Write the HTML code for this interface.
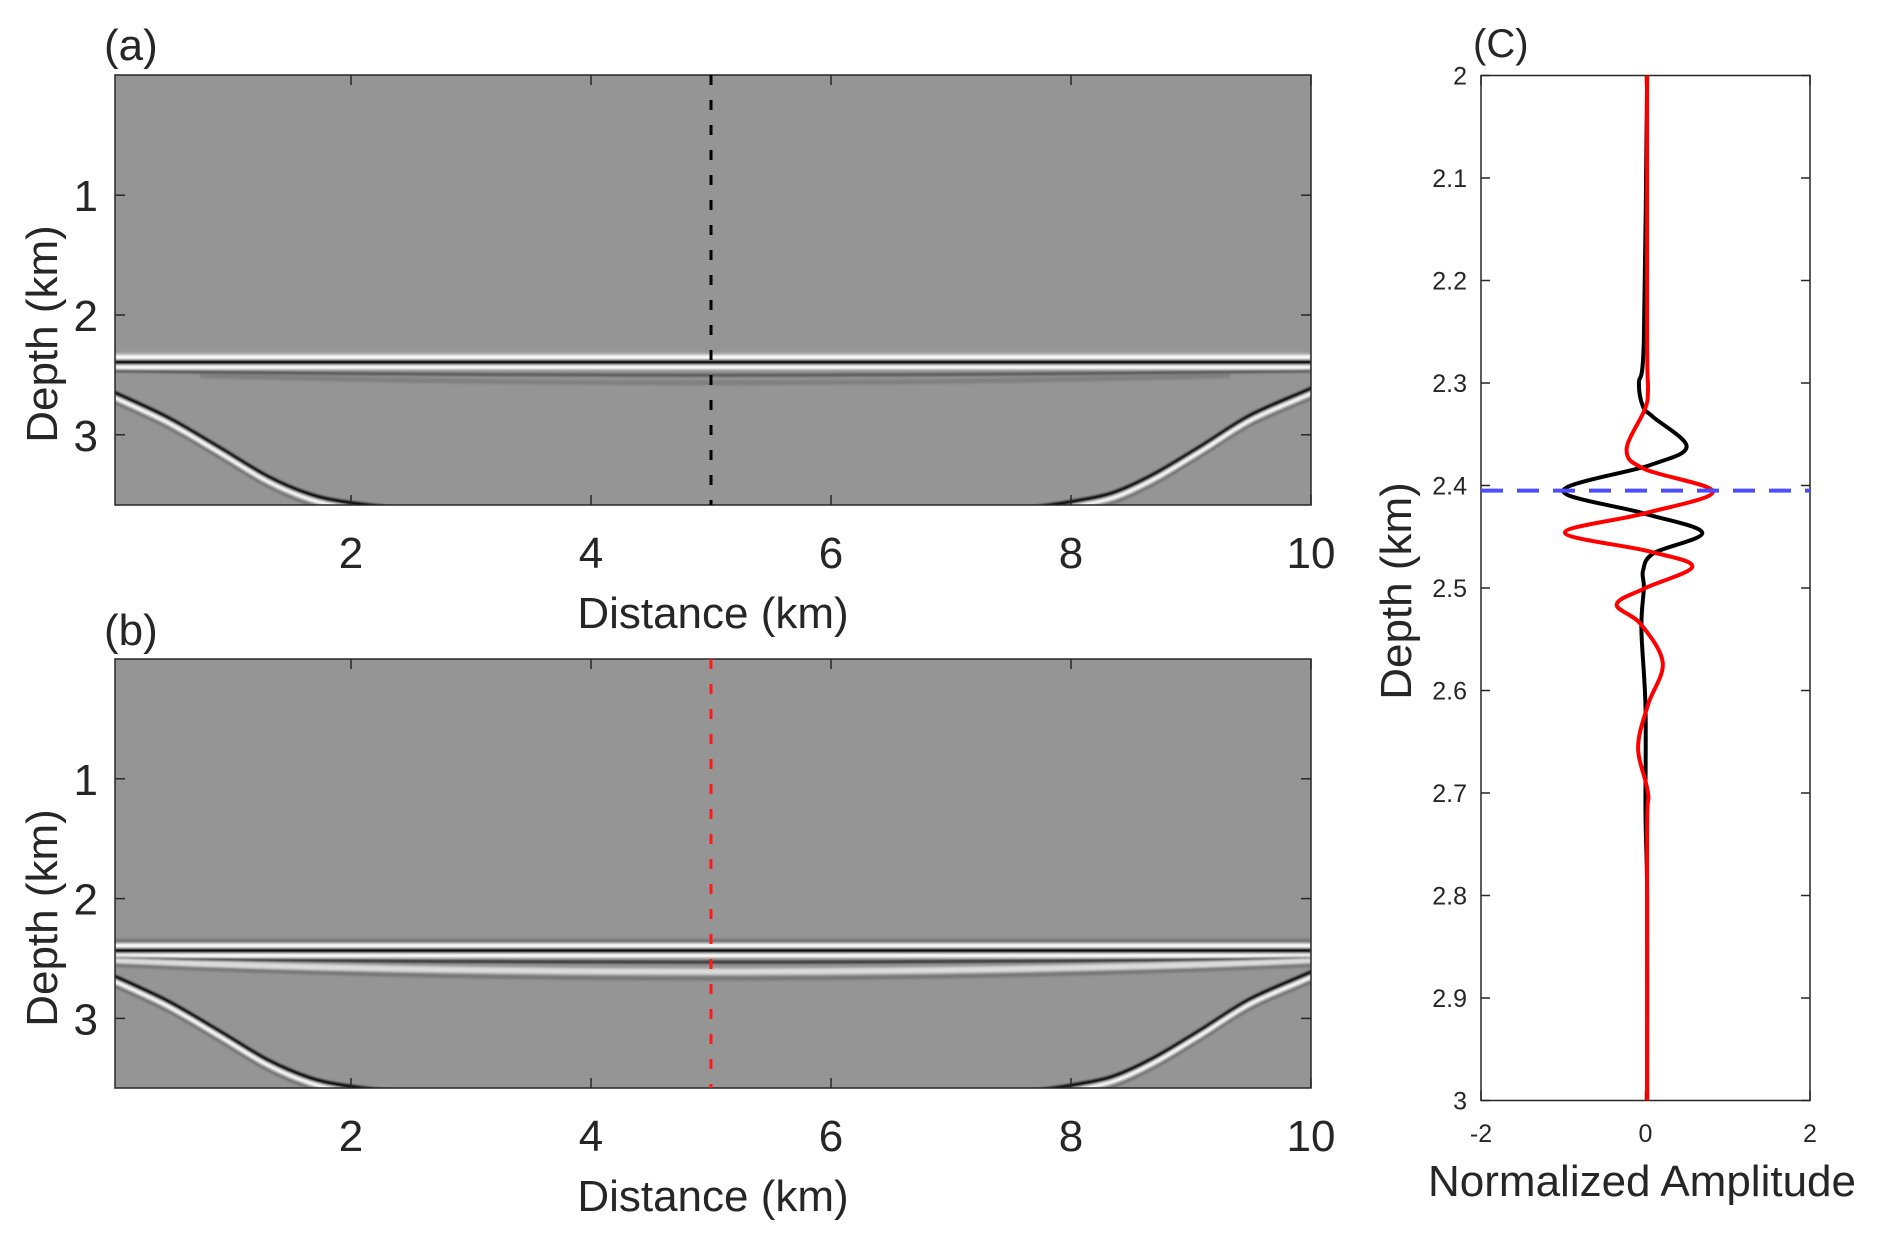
<!DOCTYPE html>
<html><head><meta charset="utf-8">
<style>
html,body{margin:0;padding:0;background:#fff;}
svg text{font-family:"Liberation Sans",Arial,sans-serif;fill:#262626;}
</style></head>
<body>
<svg id="fig" width="1892" height="1241" viewBox="0 0 1892 1241" xmlns="http://www.w3.org/2000/svg">
<defs>
<filter id="soft" x="-5%" y="-50%" width="110%" height="200%"><feGaussianBlur stdDeviation="1.1"/></filter>
<clipPath id="clipA"><rect x="115" y="75" width="1196" height="430"/></clipPath>
<clipPath id="clipB"><rect x="115" y="659" width="1196" height="429"/></clipPath>
<clipPath id="clipC"><rect x="1481" y="75.5" width="329" height="1025"/></clipPath>
</defs>
<g id="root"></g>
</svg>
<script>
// ---- data ----
const xTicks = [2, 4, 6, 8, 10];
const zTicks = [1, 2, 3];
const cTicks = [2, 2.1, 2.2, 2.3, 2.4, 2.5, 2.6, 2.7, 2.8, 2.9, 3];
const cTickLabels = ["2","2.1","2.2","2.3","2.4","2.5","2.6","2.7","2.8","2.9","3"];
const ampTicks = [-2, 0, 2];
const traceLocation = 5;       // km
const pickDepth = 2.405;       // km
const reflectorA = 2.39;       // km
const reflectorB = 2.43;       // km
const diffLeftX = [-0.1, 0.0, 0.47, 0.9, 1.3, 1.65, 1.94, 2.3];
const diffLeftZ = [2.61, 2.66, 2.88, 3.13, 3.37, 3.52, 3.585, 3.63];
const diffRightX = [10.1, 10.0, 9.5, 9.1, 8.7, 8.35, 8.0, 7.7];
const diffRightZ = [2.59, 2.64, 2.86, 3.11, 3.35, 3.51, 3.585, 3.63];
const blackDepth = [2.0, 2.258, 2.30, 2.323, 2.333, 2.362, 2.38, 2.405, 2.427, 2.446, 2.466, 2.483, 2.5, 2.54, 2.616, 2.72, 2.8, 3.0];
const blackAmp   = [0.02, -0.02, -0.08, -0.03, 0.09, 0.5, 0.06, -1.0, -0.03, 0.69, 0.1, -0.03, -0.02, -0.05, 0.0, 0.0, 0.02, 0.02];
const redDepth = [2.0, 2.258, 2.307, 2.326, 2.365, 2.384, 2.406, 2.427, 2.446, 2.464, 2.479, 2.5, 2.516, 2.535, 2.573, 2.614, 2.656, 2.70, 2.74, 3.0];
const redAmp   = [0.02, 0.02, 0.03, -0.01, -0.23, -0.01, 0.82, 0.0, -0.98, 0.03, 0.57, 0.0, -0.35, -0.06, 0.21, 0.03, -0.09, 0.03, 0.02, 0.02];

// ---- axes ----
const NS = "http://www.w3.org/2000/svg";
const root = document.getElementById('root');
function el(tag, attrs, parent, text){
  const e = document.createElementNS(NS, tag);
  for (const k in attrs) e.setAttribute(k, attrs[k]);
  if (text !== undefined) e.textContent = text;
  (parent||root).appendChild(e);
  return e;
}
const X0 = 111, XS = 120;
const xScale = v => X0 + v*XS;
const zScaleA = d => 75.4 + d*119.8;
const zScaleB = d => 659 + d*119.8;
const cz = d => 75.5 + (d-2)*1025;
const ca = a => 1645.5 + a*82.25;

function smoothPath(pts){
  let d = `M${pts[0][0]},${pts[0][1]}`;
  for (let i=0;i<pts.length-1;i++){
    const p0=pts[Math.max(i-1,0)], p1=pts[i], p2=pts[i+1], p3=pts[Math.min(i+2,pts.length-1)];
    const c1x=p1[0]+(p2[0]-p0[0])/6, c1y=p1[1]+(p2[1]-p0[1])/6;
    const c2x=p2[0]-(p3[0]-p1[0])/6, c2y=p2[1]-(p3[1]-p1[1])/6;
    d += ` C${c1x},${c1y} ${c2x},${c2y} ${p2[0]},${p2[1]}`;
  }
  return d;
}

function seismicPanel(name, top, zs, refl, clip, dashColor, isB){
  const g = el('g', {'clip-path':`url(#${clip})`});
  
  
  const bg = el('rect', {x:115, y:top, width:1196, height:430, fill:'#959595'}, g);
  
  
  const y = zs(refl);
  const refG = el('g', {filter:'url(#soft)'}, g);
  
  
  if (!isB){
    el('rect',{x:115,y:y-9,width:1196,height:3,fill:'#b0b0b0'},refG);
    el('rect',{x:115,y:y-6.5,width:1196,height:4,fill:'#ffffff'},refG);
    el('rect',{x:115,y:y-2,width:1196,height:4.5,fill:'#000000'},refG);
    el('rect',{x:115,y:y+3.5,width:1196,height:4,fill:'#ffffff'},refG);
    el('path',{d:`M115,${y+9} Q${xScale(5)},${y+18} 1311,${y+9}`,stroke:'#555','stroke-width':3,fill:'none'},refG);
    el('path',{d:`M200,${y+14} Q${xScale(5)},${y+28} 1230,${y+14}`,stroke:'#808080','stroke-width':5,fill:'none'},refG);
  } else {
    el('rect',{x:115,y:y-11,width:1196,height:3,fill:'#707070'},refG);
    el('rect',{x:115,y:y-6.5,width:1196,height:4,fill:'#ffffff'},refG);
    el('rect',{x:115,y:y-2,width:1196,height:4.5,fill:'#000000'},refG);
    el('rect',{x:115,y:y+3.5,width:1196,height:4,fill:'#ffffff'},refG);
    el('path',{d:`M115,${y+8} Q${xScale(5)},${y+16} 1311,${y+8}`,stroke:'#333','stroke-width':3,fill:'none'},refG);
    el('path',{d:`M115,${y+11} Q${xScale(5)},${y+32} 1311,${y+11}`,stroke:'#dcdcdc','stroke-width':6,fill:'none'},refG);
    el('path',{d:`M115,${y+15} Q${xScale(5)},${y+42} 1311,${y+15}`,stroke:'#777','stroke-width':4,fill:'none'},refG);
  }
  // diffraction curves
  [[diffLeftX,diffLeftZ,'left'],[diffRightX,diffRightZ,'right']].forEach(([xs,zz,side])=>{
    const pts = xs.map((v,i)=>[xScale(v), zs(zz[i])]);
    const dg = el('g',{filter:'url(#soft)'},g);
    
    
    const d = smoothPath(pts);
    el('path',{d:d,stroke:'#000',fill:'none','stroke-width':3.5,transform:'translate(0,-3)'},dg);
    el('path',{d:d,stroke:'#fff',fill:'none','stroke-width':3.5,transform:'translate(0,2)'},dg);
    el('path',{d:d,stroke:'#666',fill:'none','stroke-width':2,transform:'translate(0,7)'},dg);
  });
  const fr = el('rect',{x:115,y:top,width:1196,height:(isB?429:430),fill:'none',stroke:'#262626','stroke-width':1.5});
  
  
  const bottom = top + (isB?429:430);
  xTicks.forEach(v=>{
    const x = xScale(v);
    const t = el('line',{x1:x,x2:x,y1:bottom,y2:bottom-10,stroke:'#262626','stroke-width':1.5});
    
    
    el('line',{x1:x,x2:x,y1:top,y2:top+10,stroke:'#262626','stroke-width':1.5});
    const lab = el('text',{x:x,y:bottom+63,'font-size':44,'text-anchor':'middle'},undefined,String(v));
    
    
  });
  zTicks.forEach(v=>{
    const y2 = zs(v);
    el('line',{x1:115,x2:125,y1:y2,y2:y2,stroke:'#262626','stroke-width':1.5});
    el('line',{x1:1311,x2:1301,y1:y2,y2:y2,stroke:'#262626','stroke-width':1.5});
    const lab = el('text',{x:98,y:y2+16,'font-size':44,'text-anchor':'end'},undefined,String(v));
    
    
  });
  const dl = el('line',{x1:xScale(traceLocation),x2:xScale(traceLocation),y1:top,y2:bottom,stroke:dashColor,'stroke-width':3,'stroke-dasharray':'10 15'});
  
  
  const xl = el('text',{x:713,y:bottom+123,'font-size':44,'text-anchor':'middle'},undefined,'Distance (km)');
  
  
  const cy = top + 259;
  const yl = el('text',{x:42,y:cy,'font-size':44,'text-anchor':'middle',transform:`rotate(-90 42 ${cy}) translate(0,15)`},undefined,'Depth (km)');
  
  
}

seismicPanel('panel-a', 75, zScaleA, reflectorA, 'clipA', '#000', false);
seismicPanel('panel-b', 659, zScaleB, reflectorB, 'clipB', '#ff1a1a', true);

const la = el('text',{x:104,y:60,'font-size':44},undefined,'(a)');


const lb = el('text',{x:104,y:645,'font-size':44},undefined,'(b)');


const lc = el('text',{x:1473,y:57,'font-size':40},undefined,'(C)');



// ---- panel c ----
const cf = el('rect',{x:1481,y:75.5,width:329,height:1025,fill:'#fff',stroke:'#262626','stroke-width':1.5});


cTicks.forEach((v,i)=>{
  const y = cz(v);
  el('line',{x1:1481,x2:1490,y1:y,y2:y,stroke:'#262626','stroke-width':1.5});
  el('line',{x1:1810,x2:1801,y1:y,y2:y,stroke:'#262626','stroke-width':1.5});
  const t = el('text',{x:1467,y:y+9,'font-size':25,'text-anchor':'end'},undefined,cTickLabels[i]);
  
  
});
ampTicks.forEach(v=>{
  const x = ca(v);
  el('line',{x1:x,x2:x,y1:1100.5,y2:1091,stroke:'#262626','stroke-width':1.5});
  el('line',{x1:x,x2:x,y1:75.5,y2:85,stroke:'#262626','stroke-width':1.5});
  const t = el('text',{x:x,y:1142,'font-size':25,'text-anchor':'middle'},undefined,String(v));
  
  
});
const cg = el('g',{'clip-path':'url(#clipC)'});


const bl = el('path',{d:smoothPath(blackDepth.map((d,i)=>[ca(blackAmp[i]),cz(d)])),stroke:'#000','stroke-width':4,fill:'none'},cg);


const rl = el('path',{d:smoothPath(redDepth.map((d,i)=>[ca(redAmp[i]),cz(d)])),stroke:'#ff0000','stroke-width':4,fill:'none'},cg);


const pl = el('line',{x1:1481,x2:1810,y1:cz(pickDepth),y2:cz(pickDepth),stroke:'#4d4dff','stroke-width':4,'stroke-dasharray':'22 14'},cg);


const cx = el('text',{x:1642,y:1196,'font-size':44,'text-anchor':'middle'},undefined,'Normalized Amplitude');


const cyl = el('text',{x:1396,y:591,'font-size':44,'text-anchor':'middle',transform:'rotate(-90 1396 591) translate(0,15)'},undefined,'Depth (km)');


</script>
</body></html>
